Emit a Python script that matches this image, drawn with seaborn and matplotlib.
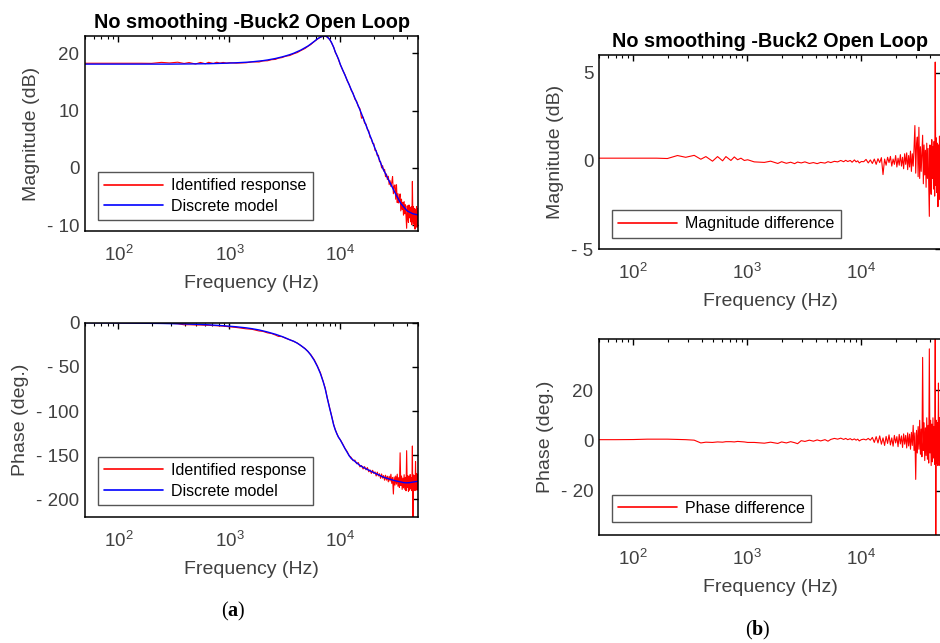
import numpy as np
import pandas as pd
import matplotlib
matplotlib.use("Agg")
import matplotlib.pyplot as plt
import seaborn as sns
from matplotlib.ticker import FixedLocator, FixedFormatter, LogLocator, NullFormatter

# ---------------- data ----------------
freq_hz = [
    50, 70, 100, 133, 160, 199, 244, 288, 342, 391, 433, 495, 548, 607, 649, 718, 769, 822, 879, 941,
    1007, 1150, 1410, 1600, 1850, 2000, 2200, 2400, 2600, 2760, 2970, 3200, 3500, 3800, 4100, 4400,
    4800, 5100, 5400, 5800, 6200, 6600, 7000, 7300, 7600, 8000, 8300, 8700, 9000, 9300, 9600, 10000,
    10500, 11000, 11500, 12000, 12500, 13000, 13500, 14000, 14500, 15000,
    15500, 16000, 16500, 17000, 17500, 18000, 18500, 19000, 19500, 20000,
    20500, 21000, 21500, 22000, 22500, 23000, 23500, 24000, 24500, 25000,
    25500, 26000, 26500, 27000, 27500, 28000, 28500, 29000, 29500, 30000,
    30500, 31000, 31500, 32000, 32500, 33000, 33500, 34000, 34500, 35000,
    35500, 36000, 36500, 37000, 37500, 38000, 38500, 39000, 39500, 40000,
    40500, 41000, 41500, 42000, 42500, 43000, 43500, 44000, 44500, 45000,
    45500, 46000, 46500, 47000, 47500, 48000, 48500, 49000, 49500, 50000,
]

mag_model_db = [
    18.1, 18.1, 18.1, 18.1, 18.1, 18.1, 18.1, 18.1, 18.12, 18.12, 18.13, 18.14, 18.15, 18.16, 18.17,
    18.19, 18.2, 18.22, 18.24, 18.26, 18.28, 18.33, 18.42, 18.5, 18.62, 18.7, 18.82, 18.95, 19.08,
    19.2, 19.35, 19.52, 19.75, 20.0, 20.28, 20.55, 20.95, 21.25, 21.6, 22.05, 22.5, 22.8, 22.98, 23.0,
    22.85, 22.4, 21.9, 21.0, 20.2, 19.6, 19.0, 18.0,
    17.06, 16.17, 15.32, 14.5, 13.70, 12.93, 12.19, 11.48, 10.80, 10.13,
    9.44, 8.75, 8.09, 7.44, 6.81, 6.21, 5.62, 5.04, 4.48, 3.93,
    3.40, 2.88, 2.37, 1.87, 1.39, 0.91, 0.45, 0.0, -0.35, -0.70,
    -1.03, -1.36, -1.69, -2.01, -2.32, -2.62, -2.93, -3.22, -3.51, -3.80,
    -4.06, -4.31, -4.56, -4.81, -5.05, -5.29, -5.52, -5.75, -5.98, -6.20,
    -6.34, -6.47, -6.61, -6.74, -6.87, -7.00, -7.13, -7.25, -7.38, -7.50,
    -7.56, -7.61, -7.66, -7.71, -7.76, -7.81, -7.86, -7.91, -7.95, -8.00,
    -8.02, -8.04, -8.06, -8.08, -8.10, -8.12, -8.14, -8.16, -8.18, -8.20,
]

phase_model_deg = [
    0.0, -0.1, -0.3, -0.45, -0.55, -0.7, -0.85, -1.0, -1.2, -1.4, -1.55, -1.8, -2.0, -2.2, -2.4,
    -2.7, -2.9, -3.1, -3.4, -3.7, -4.0, -4.6, -5.8, -6.8, -8.2, -9.2, -10.5, -11.8, -13.1, -14.2,
    -15.6, -17.2, -19.4, -21.0, -23.3, -25.8, -29.5, -32.5, -36.5, -42.5, -49.5, -57.5, -67.0, -75.0,
    -85.0, -97.0, -105.0, -116.0, -121.5, -126.0, -129.5, -133.0,
    -137.9, -142.6, -146.7, -150.7, -153.7, -155.4, -157.1, -158.7, -160.2, -161.7,
    -162.7, -163.6, -164.5, -165.4, -166.2, -167.0, -167.7, -168.4, -169.1, -169.7,
    -170.4, -171.0, -171.6, -172.2, -172.8, -173.4, -173.9, -174.5, -175.0, -175.35,
    -175.7, -176.0, -176.35, -176.7, -177.0, -177.3, -177.6, -177.9, -178.2, -178.5,
    -178.7, -178.9, -179.1, -179.3, -179.5, -179.7, -179.9, -180.1, -180.3, -180.45,
    -180.6, -180.75, -180.9, -181.0, -181.1, -181.2, -181.2, -181.3, -181.3, -181.3,
    -181.3, -181.2, -181.2, -181.1, -181.0, -180.9, -180.8, -180.7, -180.6, -180.5,
    -180.4, -180.3, -180.2, -180.1, -180.0, -179.9, -179.8, -179.7, -179.6, -179.5,
]

mag_diff_db = [
    0.15, 0.15, 0.15, 0.15, 0.15, 0.13, 0.30, 0.20, 0.31, 0.09, 0.24, -0.02, 0.24, 0.0, 0.24, 0.02,
    0.22, 0.06, 0.15, 0.02, 0.06, -0.06, -0.09, -0.02, -0.15, -0.05, -0.14, -0.08, -0.16, -0.07,
    -0.12, -0.06, -0.15, -0.10, -0.16, -0.09, -0.13, -0.05, -0.10, -0.03, -0.06, 0.02, -0.05, 0.03,
    -0.04, 0.02, -0.08, 0.05, -0.06, 0.0, -0.12, -0.04,
    -0.05, 0.08, -0.12, 0.05, -0.15, 0.1, -0.2, 0.12, -0.1, 0.18,
    -0.78, 0.1, -0.25, 0.2, -0.1, 0.25, -0.3, 0.1, -0.2, 0.3,
    -0.35, 0.15, -0.25, 0.35, -0.3, 0.2, -0.45, 0.4, -0.2, 0.45,
    -0.5, 0.3, -0.35, 0.55, -0.6, 0.4, -0.3, 0.7, 2.0, -0.7,
    0.9, 1.35, -0.9, 1.9, -1.0, 0.8, -0.6, 0.5, 1.45, -1.3,
    0.9, -0.8, 0.6, -1.5, 1.0, -1.0, 0.7, -1.4, -3.15, 0.9,
    -1.2, -1.9, 1.2, -1.0, 0.8, -1.6, 1.1, -2.0, 5.6, -1.4,
    1.3, -1.8, 1.0, -2.6, 0.9, -1.2, 1.4, -2.2, 1.1, -1.0,
]

phase_diff_deg = [
    0.3, 0.3, 0.35, 0.5, 0.5, 0.5, 0.4, 0.3, 0.1, -1.0, -0.7, -0.8, -0.6, -0.7, -0.5, -0.5, -0.6,
    -0.4, -0.5, -0.6, -0.8, -0.8, -1.1, -0.7, -1.2, -0.6, -1.0, -0.5, -0.9, -1.3, -0.1, -0.4, 0.1,
    -0.3, 0.2, -0.2, 0.3, -0.3, 0.4, 0.8, 0.5, 0.9, 0.4, 0.8, 0.3, 0.7, 0.2, 0.6, 0.1, 0.5, -0.2, 0.3,
    0.5, 0.2, 0.8, 0.1, 1.2, -0.8, 1.5, -1.0, 1.8, -1.5,
    1.0, -2.0, 1.6, -1.2, 2.2, -1.8, 1.0, -2.3, 2.0, -1.0,
    1.5, -2.5, 2.4, -1.4, 1.8, -2.8, 2.6, -1.5, 2.0, -3.0,
    3.0, -2.2, 2.5, -3.5, 3.2, -2.0, 6.0, -4.0, 3.0, -15.5,
    4.0, -5.0, 5.5, -3.5, 8.0, -5.5, 4.5, -6.5, 33.0, -4.0,
    7.0, -8.0, 5.0, -6.0, 9.0, -7.5, 6.0, -9.0, 36.4, -5.0,
    8.0, -10.0, 6.5, -8.5, 9.0, -7.0, 5.5, -9.5, 41.0, -40.0,
    8.0, -9.0, 7.0, -10.0, 22.8, -8.0, 9.0, -10.0, 8.0, -9.0,
]

x_ticks = [100, 1000, 10000]
x_tick_labels = [r"$\mathdefault{10^{2}}$", r"$\mathdefault{10^{3}}$", r"$\mathdefault{10^{4}}$"]
mag_ticks = [-10, 0, 10, 20]
mag_tick_labels = ["- 10", "0", "10", "20"]
phase_ticks = [-200, -150, -100, -50, 0]
phase_tick_labels = ["- 200", "- 150", "- 100", "- 50", "0"]
magdiff_ticks = [-5, 0, 5]
magdiff_tick_labels = ["- 5", "0", "5"]
phasediff_ticks = [-20, 0, 20]
phasediff_tick_labels = ["- 20", "0", "20"]

title_text = "No smoothing -Buck2 Open Loop"

df = pd.DataFrame({
    "freq_hz": freq_hz,
    "mag_model": mag_model_db,
    "phase_model": phase_model_deg,
    "mag_diff": mag_diff_db,
    "phase_diff": phase_diff_deg,
})
df["mag_ident"] = df["mag_model"] + df["mag_diff"]
df["phase_ident"] = df["phase_model"] + df["phase_diff"]

# ---------------- style ----------------
sns.set_theme(style="white")
plt.rcParams["font.family"] = ["Liberation Sans", "DejaVu Sans"]
plt.rcParams["mathtext.fontset"] = "custom"
plt.rcParams["mathtext.rm"] = "Liberation Serif"
plt.rcParams["mathtext.bf"] = "Liberation Serif:bold"

TXT = "#404040"
W, H = 940, 643
fig = plt.figure(figsize=(9.4, 6.43), dpi=100)


def box(l, r, t, b):
    return [l / W, 1 - b / H, (r - l) / W, (b - t) / H]


ax_tl = fig.add_axes(box(85, 418, 36, 231))
ax_bl = fig.add_axes(box(85, 418, 322.7, 517))
ax_tr = fig.add_axes(box(599, 941, 55, 249))
ax_br = fig.add_axes(box(599, 941, 339.3, 535))


def style(ax, ylim, yt, ytl, ylabel):
    ax.set_xscale("log")
    ax.set_xlim(50, 50000)
    ax.set_ylim(*ylim)
    ax.xaxis.set_major_locator(FixedLocator(x_ticks))
    ax.xaxis.set_major_formatter(FixedFormatter(x_tick_labels))
    ax.xaxis.set_minor_locator(LogLocator(base=10, subs=np.arange(2, 10)))
    ax.xaxis.set_minor_formatter(NullFormatter())
    ax.yaxis.set_major_locator(FixedLocator(yt))
    ax.yaxis.set_major_formatter(FixedFormatter(ytl))
    ax.tick_params(which="both", direction="in", top=True, right=True,
                   color="black", labelcolor=TXT, labelsize=13.5)
    ax.tick_params(which="major", length=4, width=1.0)
    ax.tick_params(which="minor", length=2.2, width=0.8)
    ax.tick_params(axis="x", which="major", pad=10)
    ax.tick_params(axis="y", which="major", pad=4)
    ax.set_xlabel("Frequency (Hz)", fontsize=14, color=TXT, labelpad=7)
    ax.set_ylabel(ylabel, fontsize=14, color=TXT, labelpad=5)
    for s in ax.spines.values():
        s.set_visible(True)
        s.set_color("black")
        s.set_linewidth(1.1)
    ax.grid(False)


def legend(ax, anchor):
    leg = ax.legend(loc="lower left", bbox_to_anchor=anchor, borderaxespad=0,
                    fancybox=False, framealpha=1, edgecolor="#555555",
                    fontsize=11.5, handlelength=3.7, handletextpad=0.5,
                    borderpad=0.4, labelspacing=0.35)
    leg.get_frame().set_linewidth(1.0)
    for ln in leg.get_lines():
        ln.set_linewidth(1.2)
    for t in leg.get_texts():
        t.set_color("black")


# top-left: magnitude
sns.lineplot(data=df, x="freq_hz", y="mag_ident", ax=ax_tl, color="#ff0000", lw=0.8,
             estimator=None, sort=False, label="Identified response")
sns.lineplot(data=df, x="freq_hz", y="mag_model", ax=ax_tl, color="#0000ff", lw=1.0,
             estimator=None, sort=False, label="Discrete model")
style(ax_tl, (-11, 23), mag_ticks, mag_tick_labels, "Magnitude (dB)")
ax_tl.set_title(title_text, fontsize=14.3, fontweight="bold", color="black", pad=6)
legend(ax_tl, (0.038, 0.056))

# bottom-left: phase
sns.lineplot(data=df, x="freq_hz", y="phase_ident", ax=ax_bl, color="#ff0000", lw=0.8,
             estimator=None, sort=False, label="Identified response")
sns.lineplot(data=df, x="freq_hz", y="phase_model", ax=ax_bl, color="#0000ff", lw=1.0,
             estimator=None, sort=False, label="Discrete model")
style(ax_bl, (-220, 0), phase_ticks, phase_tick_labels, "Phase (deg.)")
legend(ax_bl, (0.038, 0.062))

# top-right: magnitude difference
sns.lineplot(data=df, x="freq_hz", y="mag_diff", ax=ax_tr, color="#ff0000", lw=0.8,
             estimator=None, sort=False, label="Magnitude difference")
style(ax_tr, (-5, 6), magdiff_ticks, magdiff_tick_labels, "Magnitude (dB)")
ax_tr.set_title(title_text, fontsize=14.3, fontweight="bold", color="black", pad=6)
legend(ax_tr, (0.037, 0.058))

# bottom-right: phase difference
sns.lineplot(data=df, x="freq_hz", y="phase_diff", ax=ax_br, color="#ff0000", lw=0.8,
             estimator=None, sort=False, label="Phase difference")
style(ax_br, (-37.6, 40.2), phasediff_ticks, phasediff_tick_labels, "Phase (deg.)")
legend(ax_br, (0.037, 0.065))

# panel labels
fig.text(233 / W, 1 - 611.7 / H, r"($\mathbf{a}$)", ha="center", va="center",
         fontsize=14.5, family="Liberation Serif", color="black")
fig.text(757.7 / W, 1 - 630 / H, r"($\mathbf{b}$)", ha="center", va="center",
         fontsize=14.5, family="Liberation Serif", color="black")

fig.savefig("out.png", dpi=100)
